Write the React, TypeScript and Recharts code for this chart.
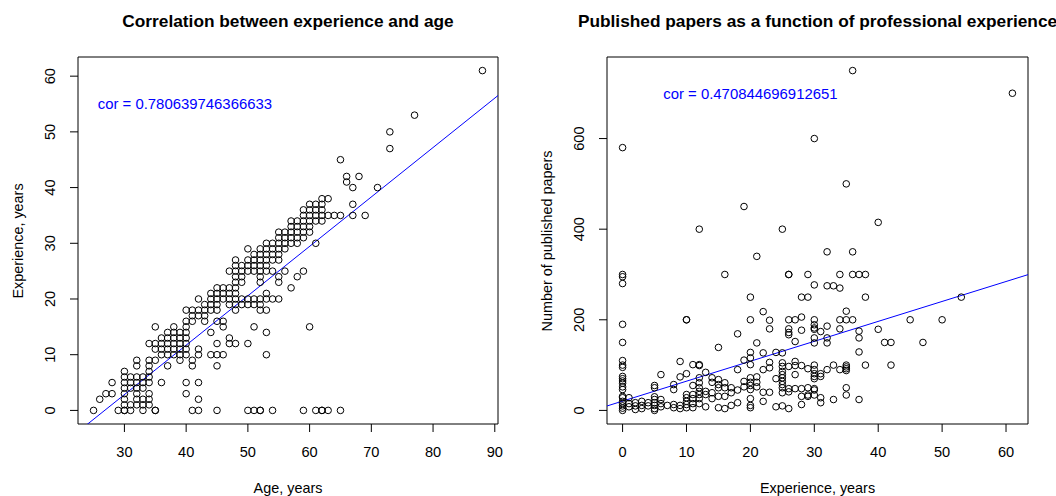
import { ScatterChart, Scatter, XAxis, YAxis, ReferenceLine, ReferenceArea, ReferenceDot } from 'recharts'

const FONT = '"Liberation Sans", Arial, Helvetica, sans-serif'

// left panel: ages grouped by years of experience
const leftExperience = [0, 1, 2, 3, 4, 5, 6, 7, 8, 9, 10, 11, 12, 13, 14, 15, 16, 17, 18, 19, 20, 21, 22, 23, 24, 25, 26, 27, 28, 29, 30, 31, 32, 33, 34, 35, 36, 37, 38, 40, 41, 42, 45, 47, 50, 53, 61]
const leftAges = [
  [25, 29, 30, 30, 31, 33, 35, 35, 41, 42, 45, 50, 51, 52, 52, 54, 59, 61, 62, 62, 63, 65],
  [30, 31, 32, 33, 34],
  [26, 30, 32, 33, 34, 42],
  [27, 28, 30, 32, 34, 40],
  [30, 31, 32, 33],
  [28, 30, 31, 32, 33, 34, 36, 40, 42],
  [30, 31, 32, 33, 34],
  [30, 34],
  [32, 34, 37, 41, 45],
  [32, 34, 35, 39, 41],
  [36, 37, 38, 39, 40, 42, 44, 45, 46, 53],
  [35, 36, 37, 38, 39, 40, 42],
  [34, 35, 36, 37, 38, 39, 40, 45, 47, 48, 50],
  [36, 37, 38, 39, 40, 47],
  [37, 38, 39, 40, 44, 53],
  [35, 38, 40, 46, 51, 60],
  [40, 41, 43, 45, 46],
  [41, 42, 43],
  [40, 41, 42, 43, 44, 45, 48, 52, 53],
  [43, 44, 45, 47, 48, 49, 50, 51, 52],
  [42, 44, 45, 46, 47, 48, 49, 50, 51, 52, 53, 54, 55],
  [44, 45, 46, 47, 48, 53],
  [45, 46, 47, 48, 57],
  [48, 49, 52, 55],
  [48, 49, 52, 55, 58],
  [47, 48, 49, 50, 51, 52, 53, 54, 56, 59],
  [48, 49, 50, 51, 52, 53],
  [48, 50, 51, 52, 53, 54, 55],
  [51, 52, 53, 54, 55],
  [50, 52, 53, 54, 55, 56],
  [53, 54, 55, 56, 57, 58, 61],
  [55, 56, 57, 58, 59],
  [55, 56, 57, 58, 59, 60],
  [57, 58, 59, 60],
  [57, 58, 59, 60, 61, 62],
  [59, 60, 61, 62, 63, 64, 65, 67, 69],
  [59, 60, 61, 62],
  [60, 61, 62, 67],
  [62, 63],
  [67, 71],
  [66],
  [66, 68],
  [65],
  [73],
  [73],
  [77],
  [88],
]
const leftTicksX = [30, 40, 50, 60, 70, 80, 90]
const leftTicksY = [0, 10, 20, 30, 40, 50, 60]
const leftFit = { intercept: -23.77, slope: 0.887 }
const leftCor = 'cor = 0.780639746366633'
const leftCorAt = [39.8, 55]

// right panel: published papers grouped by years of experience
const rightExperience = [0, 1, 2, 3, 4, 5, 6, 7, 8, 9, 10, 11, 12, 13, 14, 15, 16, 17, 18, 19, 20, 21, 22, 23, 24, 25, 26, 27, 28, 29, 30, 31, 32, 33, 34, 35, 36, 37, 38, 40, 41, 42, 45, 47, 50, 53, 61]
const rightPapers = [
  [580, 300, 295, 280, 190, 150, 110, 100, 95, 75, 70, 65, 60, 52, 46, 31, 28, 20, 15, 10, 5, 0],
  [28, 15, 8],
  [17, 10, 2],
  [20, 11, 4],
  [17, 10],
  [55, 50, 30, 24, 17, 11, 4, 0],
  [79, 24, 15, 8],
  [11],
  [57, 46, 13, 6],
  [108, 74, 11, 4],
  [200, 200, 81, 35, 28, 20, 13, 6],
  [101, 55, 35, 26, 15, 6],
  [400, 101, 99, 72, 61, 50, 42, 35, 26, 15],
  [84, 42, 35, 8],
  [72, 62, 39, 26],
  [139, 68, 57, 50, 31, 6],
  [300, 61, 50, 31, 4],
  [50, 39, 11],
  [169, 90, 45, 17],
  [450, 111, 64, 52],
  [250, 200, 128, 116, 101, 72, 62, 55, 46, 26, 11, 6],
  [340, 149, 74, 62, 52],
  [218, 127, 90, 40, 20],
  [199, 180, 106, 94, 40],
  [128, 70, 8],
  [400, 127, 105, 97, 86, 79, 72, 64, 57, 50, 39, 10],
  [300, 300, 200, 180, 172, 167, 97, 48, 41, 4],
  [200, 152, 108, 99, 79, 48],
  [250, 206, 177, 99, 48, 31, 13],
  [300, 250, 92, 50, 34, 31],
  [600, 277, 200, 189, 182, 179, 160, 149, 100, 90, 81, 75, 70, 48, 45, 34],
  [174, 81, 75, 28, 17],
  [350, 275, 186, 160, 149, 90],
  [275, 100, 24],
  [300, 270, 200, 180, 90],
  [500, 219, 200, 100, 96, 92, 88, 50, 34],
  [750, 350, 300, 200],
  [300, 175, 160, 129, 24],
  [300, 250, 100],
  [415, 179],
  [150],
  [150, 100],
  [200],
  [150],
  [200],
  [250],
  [700],
]
const rightTicksX = [0, 10, 20, 30, 40, 50, 60]
const rightTicksY = [0, 200, 400, 600]
const rightFit = { intercept: 20.5, slope: 4.4 }
const rightCor = 'cor = 0.470844696912651'
const rightCorAt = [20, 700]

function flatten(groups: number[], values: number[][], groupIsX: boolean) {
  const out: { x: number; y: number }[] = []
  groups.forEach((g, i) => values[i].forEach((v) => out.push(groupIsX ? { x: g, y: v } : { x: v, y: g })))
  return out
}

// R-style 4% padding on each side
function rRange(vals: number[]): [number, number] {
  const lo = Math.min(...vals)
  const hi = Math.max(...vals)
  const d = (hi - lo) * 0.04
  return [lo - d, hi + d]
}

const ring = (p: any) => <circle cx={p.cx} cy={p.cy} r={3.3} fill="none" stroke="#000" strokeWidth={1} />

const XTick = (p: any) => (
  <text x={p.x} y={p.y + 18} textAnchor="middle" dominantBaseline="central" fontSize={14.6} fontFamily={FONT} fill="#000">
    {p.payload.value}
  </text>
)

const YTick = (p: any) => {
  const cx = p.x - 18
  return (
    <text x={cx} y={p.y} transform={`rotate(-90, ${cx}, ${p.y})`} textAnchor="middle" dominantBaseline="central" fontSize={14.6} fontFamily={FONT} fill="#000">
      {p.payload.value}
    </text>
  )
}

interface PanelProps {
  offset: number
  plotLeft: number
  plotRight: number
  points: { x: number; y: number }[]
  xTicks: number[]
  yTicks: number[]
  fit: { intercept: number; slope: number }
  cor: string
  corAt: number[]
  title: string
  xLabel: string
  yLabel: string
}

const W = 528
const H = 496
const PLOT_TOP = 57
const PLOT_BOTTOM = 424

function Panel({ offset, plotLeft, plotRight, points, xTicks, yTicks, fit, cor, corAt, title, xLabel, yLabel }: PanelProps) {
  const xDomain = rRange(points.map((d) => d.x))
  const yDomain = rRange(points.map((d) => d.y))
  const mid = (plotLeft + plotRight) / 2
  const centered = { position: 'absolute' as const, transform: 'translate(-50%, -50%)', whiteSpace: 'nowrap' as const, lineHeight: 1 }
  return (
    <div style={{ position: 'absolute', left: offset, top: 0, width: W, height: H }}>
      <ScatterChart width={W} height={H} margin={{ top: PLOT_TOP, right: W - plotRight, bottom: H - PLOT_BOTTOM - 40, left: plotLeft - 60 }}>
        <XAxis type="number" dataKey="x" domain={xDomain} ticks={xTicks} interval={0} allowDataOverflow height={40}
          axisLine={false} tickSize={8} tickMargin={2} tickLine={{ stroke: '#000' }} tick={XTick} />
        <YAxis type="number" dataKey="y" domain={yDomain} ticks={yTicks} interval={0} allowDataOverflow width={60}
          axisLine={false} tickSize={8} tickMargin={2} tickLine={{ stroke: '#000' }} tick={YTick} />
        <Scatter data={points} shape={ring} isAnimationActive={false} />
        <ReferenceLine
          segment={[
            { x: xDomain[0], y: fit.intercept + fit.slope * xDomain[0] },
            { x: xDomain[1], y: fit.intercept + fit.slope * xDomain[1] },
          ]}
          ifOverflow="hidden"
          stroke="#0000ff"
          strokeWidth={1}
        />
        <ReferenceArea x1={xDomain[0]} x2={xDomain[1]} y1={yDomain[0]} y2={yDomain[1]} fill="none" stroke="#000" strokeWidth={1} ifOverflow="visible" />
        <ReferenceDot x={corAt[0]} y={corAt[1]} r={0} fill="none" stroke="none"
          label={{ value: cor, position: 'center', fill: '#0000ff', fontSize: 14.9, fontFamily: FONT }} />
      </ScatterChart>
      <div style={{ ...centered, left: mid, top: 22, fontSize: 17.3, fontWeight: 'bold' }}>{title}</div>
      <div style={{ ...centered, left: mid, top: 488, fontSize: 14.4 }}>{xLabel}</div>
      <div style={{ ...centered, left: plotLeft - 60, top: (PLOT_TOP + PLOT_BOTTOM) / 2, fontSize: 14.4, transform: 'translate(-50%, -50%) rotate(-90deg)' }}>{yLabel}</div>
    </div>
  )
}

export default function App() {
  const leftPoints = flatten(leftExperience, leftAges, false)
  const rightPoints = flatten(rightExperience, rightPapers, true)
  return (
    <div style={{ position: 'absolute', left: 0, top: 0, width: 1056, height: 496, background: '#fff', fontFamily: FONT, color: '#000' }}>
      <Panel offset={0} plotLeft={78} plotRight={498} points={leftPoints} xTicks={leftTicksX} yTicks={leftTicksY}
        fit={leftFit} cor={leftCor} corAt={leftCorAt} title="Correlation between experience and age"
        xLabel="Age, years" yLabel="Experience, years" />
      <Panel offset={528} plotLeft={79} plotRight={500} points={rightPoints} xTicks={rightTicksX} yTicks={rightTicksY}
        fit={rightFit} cor={rightCor} corAt={rightCorAt} title="Published papers as a function of professional experience"
        xLabel="Experience, years" yLabel="Number of published papers" />
    </div>
  )
}
